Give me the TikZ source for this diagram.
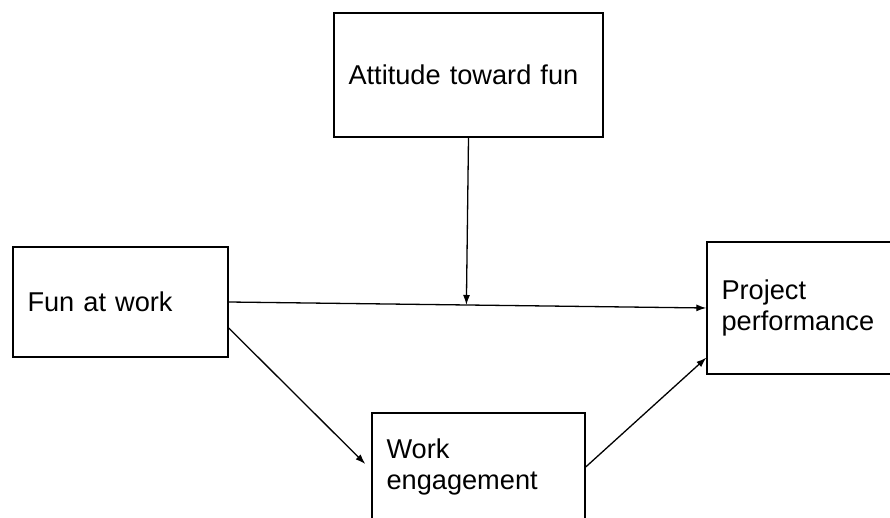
\documentclass[tikz,border=0pt]{standalone}
\usepackage{fontspec}
\setmainfont{Liberation Sans}
\usetikzlibrary{arrows.meta,calc}

\tikzset{
  varbox/.style={draw=black, line width=1.4pt, fill=white, rectangle,
    inner xsep=14.5pt, inner ysep=0pt, align=left,
    font=\fontsize{27.2}{31.5}\selectfont},
  link/.style={draw=black, line width=1.3pt,
    -{Latex[length=10pt,width=7pt]}}
}

\begin{document}
\begin{tikzpicture}[x=1pt,y=-1pt]
  \useasboundingbox (0,0) rectangle (890,518);
  \clip (0,0) rectangle (890,518);

  % the four variables
  \node[varbox, text width=240pt, minimum height=124pt] (att) at (468.5,75) {Attitude toward fun};
  \node[varbox, text width=186pt, minimum height=110pt] (fun) at (120.5,302) {Fun at work};
  \node[varbox, text width=199pt, minimum height=132pt] (pp)  at (821,308) {Project\\performance};
  \node[varbox, text width=184pt, minimum height=108pt] (we)  at (478.5,467) {Work\\engagement};

  % direct path and the moderator landing on it
  \draw[link] (fun.east) -- (pp.west);
  \coordinate (mod) at ($(fun.east)!(att.south)!(pp.west)$);
  \draw[link] (att.south) -- (mod);

  % mediated path through engagement
  \coordinate (f1) at ([yshift=-26pt]fun.east);
  \coordinate (w1) at ([xshift=-6pt,yshift=3pt]we.west);
  \draw[link] (f1) -- (w1);
  \coordinate (p1) at ([yshift=17pt]pp.south west);
  \draw[link] (we.east) -- (p1);
\end{tikzpicture}
\end{document}
